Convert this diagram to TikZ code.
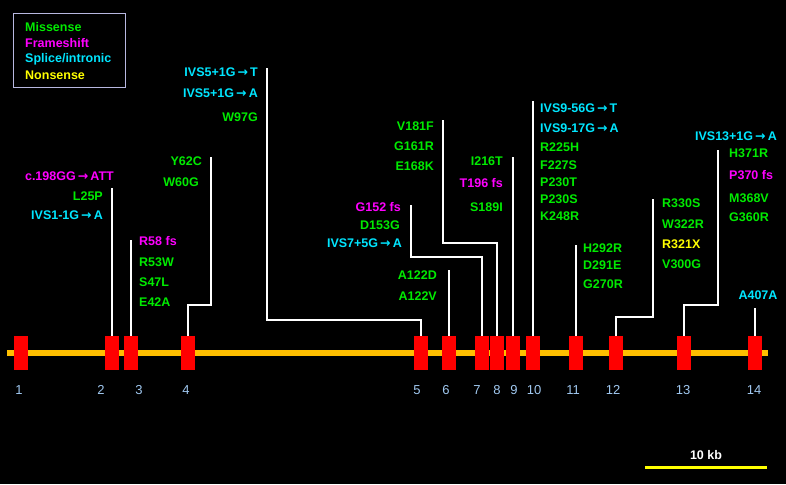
\documentclass[tikz,border=0pt]{standalone}
\usepackage{fontspec}
\setmainfont{Liberation Sans}
\newfontfamily\arrowfont{DejaVu Sans}
\usepackage{tikz}
\definecolor{mis}{RGB}{0,235,0}
\definecolor{fra}{RGB}{255,0,255}
\definecolor{spl}{RGB}{0,230,255}
\definecolor{non}{RGB}{255,255,0}
\definecolor{exnum}{RGB}{160,200,240}
\newcommand{\mto}{{\arrowfont\bfseries\,→\,}}

\begin{document}
\begin{tikzpicture}[x=1pt,y=-1pt,
	exon/.style={rectangle,draw=none,fill=red,minimum width=14pt,minimum height=34pt,inner sep=0pt},
	num/.style={text=exnum,font=\fontsize{13}{14}\selectfont},
	lab/.style={inner sep=0pt,font=\fontsize{12.5}{14}\selectfont\bfseries},
	link/.style={draw=white,line width=1.8pt}]
	\fill[black] (0,0) rectangle (786,484);
	\useasboundingbox (0,0) rectangle (786,484);
	% legend
	\draw[draw=gray!60!blue!40] (13,13) rectangle (125,87);
	\node[lab,anchor=west,text=mis] (LM) at (25,27) {Missense};
	\node[lab,anchor=west,text=fra] (LF) at (25,43) {Frameshift};
	\node[lab,anchor=west,text=spl] (LS) at (25,59) {Splice/intronic};
	\node[lab,anchor=west,text=non] (LN) at (25,75) {Nonsense};
	% gene
	\fill[orange!50!yellow] (7,350) rectangle (768,356);
	\node[exon] (e1) at (21,353) {};
	\node[exon] (e2) at (112,353) {};
	\node[exon] (e3) at (131,353) {};
	\node[exon] (e4) at (188,353) {};
	\node[exon] (e5) at (421,353) {};
	\node[exon] (e6) at (449,353) {};
	\node[exon] (e7) at (482,353) {};
	\node[exon] (e8) at (497,353) {};
	\node[exon] (e9) at (513,353) {};
	\node[exon] (e10) at (533,353) {};
	\node[exon] (e11) at (576,353) {};
	\node[exon] (e12) at (616,353) {};
	\node[exon] (e13) at (684,353) {};
	\node[exon] (e14) at (755,353) {};
	\foreach \n/\x in {1/19,2/101,3/139,4/186,5/417,6/446,7/477,8/497,9/514,10/534,11/573,12/613,13/683,14/754}
		\node[num] (n\n) at (\x,390) {\n};
	% connectors
	\coordinate (t2) at (112,188);
	\coordinate (t3) at (131,240);
	\coordinate (b4) at (188,305); \coordinate (c4) at (211,305); \coordinate (t4) at (211,157);
	\coordinate (b5) at (421,320); \coordinate (c5) at (267,320); \coordinate (t5) at (267,68);
	\coordinate (t6) at (449,270);
	\coordinate (b7) at (482,257); \coordinate (c7) at (411,257); \coordinate (t7) at (411,205);
	\coordinate (b8) at (497,243); \coordinate (c8) at (443,243); \coordinate (t8) at (443,120);
	\coordinate (t9) at (513,157);
	\coordinate (t10) at (533,101);
	\coordinate (t11) at (576,245);
	\coordinate (b12) at (616,317); \coordinate (c12) at (653,317); \coordinate (t12) at (653,199);
	\coordinate (b13) at (684,305); \coordinate (c13) at (718,305); \coordinate (t13) at (718,150);
	\coordinate (t14) at (755,308);
	\draw[link] (e2.north) -- (t2);
	\draw[link] (e3.north) -- (t3);
	\draw[link] (e4.north) -- (b4) -- (c4) -- (t4);
	\draw[link] (e5.north) -- (b5) -- (c5) -- (t5);
	\draw[link] (e6.north) -- (t6);
	\draw[link] (e7.north) -- (b7) -- (c7) -- (t7);
	\draw[link] (e8.north) -- (b8) -- (c8) -- (t8);
	\draw[link] (e9.north) -- (t9);
	\draw[link] (e10.north) -- (t10);
	\draw[link] (e11.north) -- (t11);
	\draw[link] (e12.north) -- (b12) -- (c12) -- (t12);
	\draw[link] (e13.north) -- (b13) -- (c13) -- (t13);
	\draw[link] (e14.north) -- (t14);
	% mutations
	\node[lab,anchor=east,text=fra] (m1) at (114,176) {c.198GG\mto ATT};
	\node[lab,anchor=east,text=mis] (m2) at (103,196) {L25P};
	\node[lab,anchor=east,text=spl] (m3) at (103,215) {IVS1-1G\mto A};
	\node[lab,anchor=west,text=fra] (m4) at (139,241) {R58 fs};
	\node[lab,anchor=west,text=mis] (m5) at (139,262) {R53W};
	\node[lab,anchor=west,text=mis] (m6) at (139,282) {S47L};
	\node[lab,anchor=west,text=mis] (m7) at (139,302) {E42A};
	\node[lab,anchor=east,text=mis] (m8) at (202,161) {Y62C};
	\node[lab,anchor=east,text=mis] (m9) at (199,182) {W60G};
	\node[lab,anchor=east,text=spl] (m10) at (258,72) {IVS5+1G\mto T};
	\node[lab,anchor=east,text=spl] (m11) at (258,93) {IVS5+1G\mto A};
	\node[lab,anchor=east,text=mis] (m12) at (258,117) {W97G};
	\node[lab,anchor=east,text=mis] (m13) at (437,275) {A122D};
	\node[lab,anchor=east,text=mis] (m14) at (437,296) {A122V};
	\node[lab,anchor=east,text=fra] (m15) at (401,207) {G152 fs};
	\node[lab,anchor=east,text=mis] (m16) at (400,225) {D153G};
	\node[lab,anchor=east,text=spl] (m17) at (402,243) {IVS7+5G\mto A};
	\node[lab,anchor=east,text=mis] (m18) at (434,126) {V181F};
	\node[lab,anchor=east,text=mis] (m19) at (434,146) {G161R};
	\node[lab,anchor=east,text=mis] (m20) at (434,166) {E168K};
	\node[lab,anchor=east,text=mis] (m21) at (503,161) {I216T};
	\node[lab,anchor=east,text=fra] (m22) at (503,183) {T196 fs};
	\node[lab,anchor=east,text=mis] (m23) at (503,207) {S189I};
	\node[lab,anchor=west,text=spl] (m24) at (540,108) {IVS9-56G\mto T};
	\node[lab,anchor=west,text=spl] (m25) at (540,128) {IVS9-17G\mto A};
	\node[lab,anchor=west,text=mis] (m26) at (540,147) {R225H};
	\node[lab,anchor=west,text=mis] (m27) at (540,165) {F227S};
	\node[lab,anchor=west,text=mis] (m28) at (540,182) {P230T};
	\node[lab,anchor=west,text=mis] (m29) at (540,199) {P230S};
	\node[lab,anchor=west,text=mis] (m30) at (540,216) {K248R};
	\node[lab,anchor=west,text=mis] (m31) at (583,248) {H292R};
	\node[lab,anchor=west,text=mis] (m32) at (583,265) {D291E};
	\node[lab,anchor=west,text=mis] (m33) at (583,284) {G270R};
	\node[lab,anchor=west,text=mis] (m34) at (662,203) {R330S};
	\node[lab,anchor=west,text=mis] (m35) at (662,224) {W322R};
	\node[lab,anchor=west,text=non] (m36) at (662,244) {R321X};
	\node[lab,anchor=west,text=mis] (m37) at (662,264) {V300G};
	\node[lab,anchor=east,text=spl] (m38) at (777,136) {IVS13+1G\mto A};
	\node[lab,anchor=west,text=mis] (m39) at (729,153) {H371R};
	\node[lab,anchor=west,text=fra] (m40) at (729,175) {P370 fs};
	\node[lab,anchor=west,text=mis] (m41) at (729,198) {M368V};
	\node[lab,anchor=west,text=mis] (m42) at (729,217) {G360R};
	\node[lab,text=spl] (m43) at (758,295) {A407A};
	% scale
	\fill[non] (645,466) rectangle (767,469);
	\node[lab,text=white] (kb) at (706,455) {10 kb};
\end{tikzpicture}
\end{document}
